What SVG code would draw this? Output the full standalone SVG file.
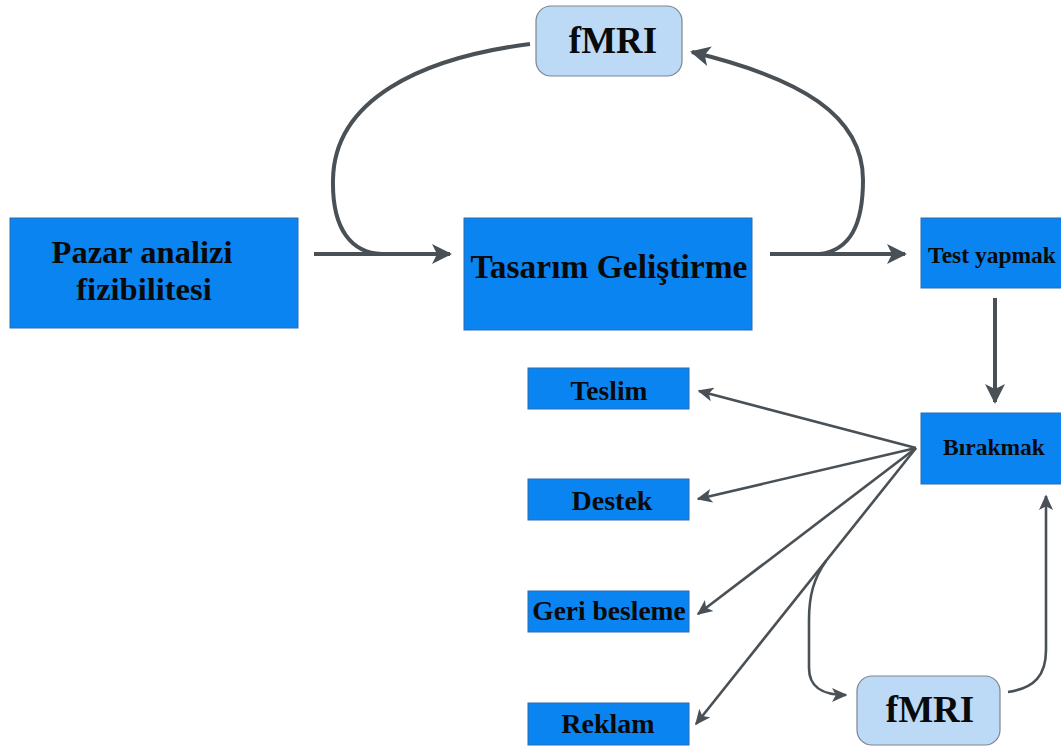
<svg xmlns="http://www.w3.org/2000/svg" width="1061" height="747" viewBox="0 0 1061 747">
<style>
.box{fill:#0a84f0;stroke:#2a6db0;stroke-width:1}
.fm{fill:#bcdaf5;stroke:#7a8590;stroke-width:1.2}
.t{font-family:'Liberation Serif','DejaVu Serif',serif;font-weight:bold;fill:#0a0a0a;text-anchor:middle}
.thick{fill:none;stroke:#4a5156;stroke-width:4}
.thin{fill:none;stroke:#4a5156;stroke-width:2.6}
</style>
<defs>
<marker id="ah" viewBox="0 0 10 10" refX="9" refY="5" markerWidth="5" markerHeight="5" orient="auto" markerUnits="strokeWidth">
<path d="M0,0 L10,5 L0,10 L2.5,5 z" fill="#4a5156"/>
</marker>
<marker id="ah2" viewBox="0 0 10 10" refX="9" refY="5" markerWidth="6" markerHeight="6" orient="auto" markerUnits="strokeWidth">
<path d="M0,0.5 L10,5 L0,9.5 L2.5,5 z" fill="#4a5156"/>
</marker>
</defs>
<g id="connectors">
<path class="thick" d="M314,254 L450,254" marker-end="url(#ah)"/>
<path class="thick" d="M530,44 C420,58 334,100 333,180 C332,230 352,253 382,254"/>
<path class="thick" d="M770,254 L905,254" marker-end="url(#ah)"/>
<path class="thick" d="M820,254 C850,250 863,225 863,180 C863,115 800,78 692,52" marker-end="url(#ah)"/>
<path class="thick" d="M995,298 L995,402" marker-end="url(#ah)"/>
<path class="thin" d="M916,448 L699,391" marker-end="url(#ah2)"/>
<path class="thin" d="M916,448 L698,499" marker-end="url(#ah2)"/>
<path class="thin" d="M916,448 L698,614" marker-end="url(#ah2)"/>
<path class="thin" d="M916,448 L696,724" marker-end="url(#ah2)"/>
<path class="thin" d="M826,561 C814,578 809,595 809,620 L809,668 C809,688 823,695 846,695" marker-end="url(#ah2)"/>
<path class="thin" d="M1008,692 C1035,688 1046,675 1046,650 L1046,496" marker-end="url(#ah2)"/>
</g>
<g id="fmri-top"><rect class="fm" x="536" y="6" width="146" height="70" rx="15"/><text class="t" x="613" y="53" font-size="37">fMRI</text></g>
<g id="pazar"><rect class="box" x="10" y="218" width="288" height="110"/><text class="t" x="142" y="263" font-size="32.5">Pazar analizi</text><text class="t" x="144" y="300" font-size="32.5">fizibilitesi</text></g>
<g id="tasarim"><rect class="box" x="464" y="218" width="288" height="112"/><text class="t" x="609" y="278" font-size="33.5">Tasarım Geliştirme</text></g>
<g id="test"><rect class="box" x="921" y="218" width="145" height="70"/><text class="t" x="992" y="263" font-size="23.5">Test yapmak</text></g>
<g id="birakmak"><rect class="box" x="921" y="413" width="145" height="71"/><text class="t" x="994" y="455" font-size="23.5">Bırakmak</text></g>
<g id="teslim"><rect class="box" x="528" y="368" width="161" height="41"/><text class="t" x="609" y="400" font-size="27.5">Teslim</text></g>
<g id="destek"><rect class="box" x="528" y="479" width="161" height="41"/><text class="t" x="612" y="510" font-size="28">Destek</text></g>
<g id="geri"><rect class="box" x="528" y="591" width="161" height="41"/><text class="t" x="609" y="620" font-size="27.5">Geri besleme</text></g>
<g id="reklam"><rect class="box" x="528" y="703" width="161" height="42"/><text class="t" x="608" y="733" font-size="28">Reklam</text></g>
<g id="fmri-bottom"><rect class="fm" x="857" y="676" width="143" height="69" rx="15"/><text class="t" x="930" y="722" font-size="37">fMRI</text></g>
</svg>
